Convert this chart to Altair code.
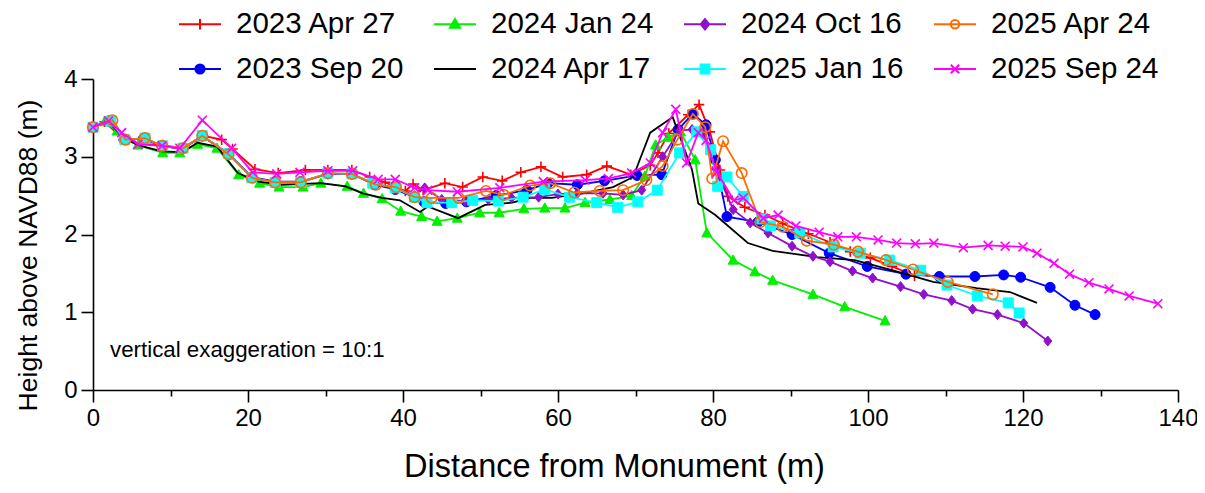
import altair as alt
import pandas as pd

FONT = "Liberation Sans"

names = ["2023 Apr 27", "2023 Sep 20", "2024 Jan 24", "2024 Apr 17",
         "2024 Oct 16", "2025 Jan 16", "2025 Apr 24", "2025 Sep 24"]
colors = ["#ff0000", "#0000ff", "#00f000", "#000000",
          "#9010cc", "#00ffff", "#ff6a00", "#ff00ff"]

# 2023 Apr 27
red_x = [0, 1.5, 4, 6, 9, 11.5, 14.2, 16.6, 18, 20.9, 23.9, 27.4, 30.3, 33.4, 35.7,
         37.7, 40.3, 41.3, 42.6, 45.4, 47.7, 50.3, 52.8, 55.2, 57.8, 60.6, 63.7, 66.3,
         69.4, 71.9, 72.9, 74.3, 76.8, 78.2, 79.6, 80.9, 81.9, 84.1, 86.7, 89.0, 92.3,
         95.1, 97.7, 100.3, 103.1, 106.0]
red_y = [3.38, 3.45, 3.22, 3.17, 3.15, 3.11, 3.27, 3.22, 3.10, 2.84, 2.79, 2.83, 2.83,
         2.83, 2.74, 2.67, 2.56, 2.65, 2.57, 2.66, 2.61, 2.74, 2.69, 2.80, 2.87, 2.74,
         2.77, 2.88, 2.77, 2.89, 3.05, 3.30, 3.54, 3.67, 3.32, 2.83, 2.49, 2.35, 2.25,
         2.14, 2.01, 1.90, 1.78, 1.70, 1.59, 1.47]

# 2023 Sep 20
blue_x = [0, 2, 4, 6.5, 9, 11.5, 14.1, 17.5, 20.5, 23.5, 26.8, 30.3, 33.4, 36.3, 39,
          41.5, 42.7, 45.5, 48.2, 52, 56, 58.7, 62.5, 66, 70.2, 73.4, 75.5, 77.4, 79.1,
          80.3, 81.8, 85.8, 90.2, 95.0, 99.9, 104.9, 109.2, 113.8, 117.5, 119.7, 123.5,
          126.7, 129.3]
blue_y = [3.38, 3.46, 3.22, 3.23, 3.14, 3.10, 3.27, 3.04, 2.74, 2.68, 2.68, 2.78, 2.78,
          2.64, 2.58, 2.48, 2.42, 2.40, 2.42, 2.50, 2.57, 2.66, 2.64, 2.69, 2.76, 2.77,
          3.35, 3.55, 3.41, 2.96, 2.23, 2.16, 2.00, 1.76, 1.59, 1.49, 1.46, 1.46, 1.48,
          1.45, 1.32, 1.09, 0.97]

# 2024 Jan 24
green_x = [0, 1.5, 3.1, 5.8, 9.0, 11.2, 13.5, 16.0, 18.8, 21.5, 24.0, 27.1, 29.4, 32.8,
           34.9, 37.3, 39.7, 42.4, 44.4, 47.0, 49.9, 52.4, 55.6, 58.3, 60.9, 63.5, 66.7,
           69.5, 71.2, 72.6, 74.2, 75.8, 77.7, 79.2, 82.6, 85.4, 87.7, 92.9, 97.0, 102.2]
green_y = [3.38, 3.45, 3.33, 3.15, 3.05, 3.05, 3.16, 3.11, 2.77, 2.66, 2.61, 2.61, 2.66,
           2.62, 2.53, 2.46, 2.30, 2.23, 2.17, 2.21, 2.28, 2.28, 2.33, 2.34, 2.34, 2.41,
           2.45, 2.50, 2.75, 3.15, 3.25, 3.32, 2.96, 2.02, 1.67, 1.52, 1.41, 1.23, 1.07,
           0.89]

# 2024 Apr 17
black_x = [0, 2, 4, 5.8, 8.9, 11.5, 13.5, 16.0, 18.7, 21.3, 24.4, 27.1, 29.4, 32.6, 34.8,
           37.3, 39.6, 42.2, 43.2, 47.1, 50.6, 54.1, 56.4, 59.2, 63.2, 67.1, 69.7, 71.9,
           74.8, 77.3, 78.1, 80.3, 84.5, 87.7, 93.4, 98.3, 103.2, 108.4, 114.0, 118.3,
           121.8]
black_y = [3.38, 3.45, 3.24, 3.15, 3.07, 3.06, 3.18, 3.13, 2.79, 2.68, 2.64, 2.65, 2.66,
           2.62, 2.53, 2.47, 2.44, 2.29, 2.36, 2.21, 2.38, 2.41, 2.47, 2.47, 2.53, 2.61,
           2.74, 3.31, 3.51, 2.83, 2.40, 2.25, 1.89, 1.79, 1.71, 1.67, 1.54, 1.39, 1.31,
           1.26, 1.12]

# 2024 Oct 16
purple_x = [0, 2, 4, 6.5, 9, 11.5, 14.1, 17.5, 20.5, 23.5, 26.8, 30.3, 33.4, 36.5, 39.1,
            41.5, 42.8, 45.0, 48.0, 51.0, 54.0, 57.5, 60.0, 62.5, 65.8, 68.4, 70.8, 73.5,
            75.7, 77.3, 78.8, 80.3, 82.6, 84.8, 87.1, 90.2, 92.9, 95.1, 98.0, 100.6,
            104.2, 107.2, 110.8, 113.5, 116.7, 120.1, 123.2]
purple_y = [3.38, 3.46, 3.22, 3.23, 3.14, 3.10, 3.26, 3.04, 2.73, 2.67, 2.67, 2.78, 2.78,
            2.64, 2.60, 2.50, 2.60, 2.45, 2.43, 2.45, 2.47, 2.48, 2.52, 2.53, 2.53, 2.51,
            2.57, 3.00, 3.34, 3.35, 3.30, 2.85, 2.32, 2.15, 2.02, 1.85, 1.72, 1.65, 1.53,
            1.44, 1.33, 1.23, 1.15, 1.04, 0.97, 0.86, 0.63]

# 2025 Jan 16
cyan_x = [0, 2.3, 4.1, 6.7, 9.0, 11.6, 14.1, 17.5, 20.5, 23.5, 26.8, 30.3, 33.4, 36.1,
          39.0, 41.5, 43.1, 46.3, 49.0, 52.3, 55.5, 58.3, 61.5, 65.0, 67.7, 70.3, 72.8,
          75.7, 77.9, 79.7, 80.6, 81.8, 83.9, 86.3, 87.4, 91.2, 95.5, 99.0, 102.8, 106.8,
          110.2, 114.1, 118.1, 119.5]
cyan_y = [3.38, 3.46, 3.22, 3.24, 3.14, 3.11, 3.27, 3.04, 2.73, 2.67, 2.67, 2.79, 2.78,
          2.66, 2.60, 2.48, 2.41, 2.41, 2.44, 2.43, 2.48, 2.58, 2.48, 2.41, 2.35, 2.42,
          2.57, 3.05, 3.32, 3.09, 2.62, 2.74, 2.49, 2.20, 2.11, 2.02, 1.84, 1.76, 1.67,
          1.54, 1.35, 1.21, 1.12, 0.99]

# 2025 Apr 24
orange_x = [0, 2.5, 4.2, 6.7, 8.9, 11.6, 14.1, 17.5, 20.5, 23.5, 26.8, 30.3, 33.4, 36.5,
            39.1, 41.5, 43.7, 47.2, 50.7, 53.0, 56.4, 59.0, 62.1, 65.4, 68.4, 71.4, 73.5,
            75.4, 77.4, 79.0, 79.9, 81.3, 83.7, 86.1, 89.0, 92.1, 95.6, 98.7, 102.3,
            105.8, 110.3, 116.1]
orange_y = [3.38, 3.47, 3.22, 3.24, 3.14, 3.11, 3.27, 3.03, 2.73, 2.67, 2.67, 2.79, 2.78,
            2.64, 2.61, 2.48, 2.47, 2.47, 2.56, 2.51, 2.63, 2.66, 2.54, 2.56, 2.57, 2.70,
            2.88, 3.22, 3.55, 3.38, 2.72, 3.20, 2.79, 2.16, 2.10, 1.92, 1.87, 1.78, 1.67,
            1.55, 1.39, 1.23]

# 2025 Sep 24
magenta_x = [0, 2.0, 3.7, 5.8, 8.9, 11.2, 14.1, 17.9, 20.6, 23.7, 26.7, 30.3, 33.5, 36.8,
             39.0, 41.5, 43.2, 47.0, 52.5, 58.1, 63.5, 66.5, 69.5, 71.9, 73.5, 75.2, 76.6,
             78.1, 79.1, 80.5, 82.7, 83.9, 86.5, 88.4, 90.7, 93.7, 96.1, 98.5, 101.3,
             103.7, 106.1, 108.5, 112.3, 115.5, 117.7, 120.0, 121.8, 124.0, 126.0, 128.5,
             131.1, 133.7, 137.4]
magenta_y = [3.38, 3.46, 3.31, 3.16, 3.14, 3.11, 3.47, 3.11, 2.80, 2.78, 2.80, 2.82, 2.82,
             2.71, 2.71, 2.60, 2.57, 2.55, 2.60, 2.68, 2.70, 2.72, 2.79, 2.92, 3.31, 3.61,
             2.92, 3.31, 3.21, 2.80, 2.44, 2.47, 2.21, 2.25, 2.11, 2.03, 1.97, 1.97, 1.93,
             1.89, 1.88, 1.89, 1.83, 1.86, 1.85, 1.84, 1.76, 1.63, 1.49, 1.38, 1.30, 1.21,
             1.11]

xs = [red_x, blue_x, green_x, black_x, purple_x, cyan_x, orange_x, magenta_x]
ys = [red_y, blue_y, green_y, black_y, purple_y, cyan_y, orange_y, magenta_y]

# marker shapes (plot) and legend glyphs (line + marker)
marker_paths = [
    "M-1,0H1M0,-1V1",
    "M1,0A1,1,0,1,1,-1,0A1,1,0,1,1,1,0Z",
    "M0,-1.05L1,0.8L-1,0.8Z",
    None,
    "M0,-1L0.8,0L0,1L-0.8,0Z",
    "M-1,-1H1V1H-1Z",
    "M1,0A1,1,0,1,1,-1,0A1,1,0,1,1,1,0Z",
    "M-0.85,-0.85L0.85,0.85M-0.85,0.85L0.85,-0.85",
]
marker_filled = [False, True, True, False, True, True, False, False]
legend_paths = [
    "M-1,0H1M0,-0.25V0.25",
    "M-1,0H1M0.22,0A0.22,0.22,0,1,1,-0.22,0A0.22,0.22,0,1,1,0.22,0Z",
    "M-1,0H1M0,-0.25L0.24,0.17L-0.24,0.17Z",
    "M-1,0H1",
    "M-1,0H1M0,-0.25L0.2,0L0,0.25L-0.2,0Z",
    "M-1,0H1M-0.21,-0.21H0.21V0.21H-0.21Z",
    "M-1,0H1M0.2,0A0.2,0.2,0,1,1,-0.2,0A0.2,0.2,0,1,1,0.2,0Z",
    "M-1,0H1M-0.2,-0.2L0.2,0.2M-0.2,0.2L0.2,-0.2",
]
legend_fill = [c if f else "transparent" for c, f in zip(colors, marker_filled)]

rows = []
for n, xv, yv in zip(names, xs, ys):
    assert len(xv) == len(yv), n
    for i, (a, b) in enumerate(zip(xv, yv)):
        rows.append({"series": n, "x": a, "y": b, "order": i})
df = pd.DataFrame(rows)

xscale = alt.Scale(domain=[0, 140], nice=False, zero=False)
yscale = alt.Scale(domain=[0, 4], nice=False, zero=False)

x_axis = alt.Axis(
    values=list(range(0, 150, 10)),
    labelExpr="datum.value % 20 === 0 ? datum.label : ''",
    tickSize={"condition": {"test": "datum.value % 20 === 0", "value": 12}, "value": 6},
    labelPadding=4, labelFont=FONT, labelFontSize=24, labelColor="black",
    title="Distance from Monument (m)", titleFont=FONT, titleFontSize=32.5,
    titleFontWeight="normal", titleColor="black",
    titleX=521, titleY=76, titleBaseline="middle", titleAlign="center",
    domainColor="black", domainWidth=1.6, tickColor="black", tickWidth=1.6,
    grid=False, labelFlush=False, labelOverlap=False,
)
y_axis = alt.Axis(
    values=[v / 2 for v in range(0, 9)],
    labelExpr="datum.value % 1 === 0 ? format(datum.value, 'd') : ''",
    tickSize=12, labelPadding=4, labelFont=FONT, labelFontSize=24, labelColor="black",
    title="Height above NAVD88 (m)", titleFont=FONT, titleFontSize=26.5,
    titleFontWeight="normal", titleColor="black",
    titleX=-65, titleY=176, titleBaseline="middle", titleAlign="center", titleAngle=-90,
    domainColor="black", domainWidth=1.6, tickColor="black", tickWidth=1.6,
    grid=False, labelFlush=False, labelOverlap=False,
)

base = alt.Chart(df)
layers = []
for i, n in enumerate(names):
    sub = base.transform_filter(alt.datum.series == n)
    line = sub.mark_line(color=colors[i], strokeWidth=1.8, clip=False).encode(
        x=alt.X("x:Q", scale=xscale, axis=x_axis),
        y=alt.Y("y:Q", scale=yscale, axis=y_axis),
        order="order:Q",
    )
    layers.append(line)
    if marker_paths[i] is not None:
        if marker_filled[i]:
            pt = sub.mark_point(shape=marker_paths[i], filled=True, fill=colors[i],
                                stroke=colors[i], strokeWidth=1, size=100, opacity=1)
        else:
            pt = sub.mark_point(shape=marker_paths[i], filled=False, stroke=colors[i],
                                strokeWidth=1.6, size=110, opacity=1)
        layers.append(pt.encode(x=alt.X("x:Q", scale=xscale), y=alt.Y("y:Q", scale=yscale)))

legend_order = [0, 2, 4, 6, 1, 3, 5, 7]
lg_domain = [names[k] for k in legend_order]
common_legend = dict(
    title=None, orient="none", legendX=85, legendY=-77, direction="horizontal",
    columns=4, columnPadding=26, rowPadding=8, padding=0,
    symbolSize=1764, symbolStrokeWidth=2, labelOffset=14,
    labelFont=FONT, labelFontSize=29.5, labelColor="black", labelLimit=400,
)
legend_layer = base.transform_filter("false").mark_point(filled=True, opacity=1).encode(
    x=alt.X("x:Q", scale=xscale),
    y=alt.Y("y:Q", scale=yscale),
    stroke=alt.Stroke("series:N", scale=alt.Scale(domain=lg_domain, range=[colors[k] for k in legend_order]),
                      legend=alt.Legend(**common_legend)),
    fill=alt.Fill("series:N", scale=alt.Scale(domain=lg_domain, range=[legend_fill[k] for k in legend_order]),
                  legend=alt.Legend(**common_legend)),
    shape=alt.Shape("series:N", scale=alt.Scale(domain=lg_domain, range=[legend_paths[k] for k in legend_order]),
                    legend=alt.Legend(**common_legend)),
)
layers.append(legend_layer)

note = alt.Chart(pd.DataFrame({"x": [2.2], "y": [0.51], "t": ["vertical exaggeration = 10:1"]})).mark_text(
    align="left", baseline="middle", font=FONT, fontSize=22.3, color="black"
).encode(x=alt.X("x:Q", scale=xscale), y=alt.Y("y:Q", scale=yscale), text="t:N")
layers.append(note)

chart = alt.layer(*layers).properties(
    width=1085, height=311,
    autosize=alt.AutoSizeParams(type="none"),
    padding={"left": 85, "top": 71, "right": 19, "bottom": 94},
).configure_view(stroke=None)

chart.save("out.html", embed_options={"renderer": "svg", "actions": False})
